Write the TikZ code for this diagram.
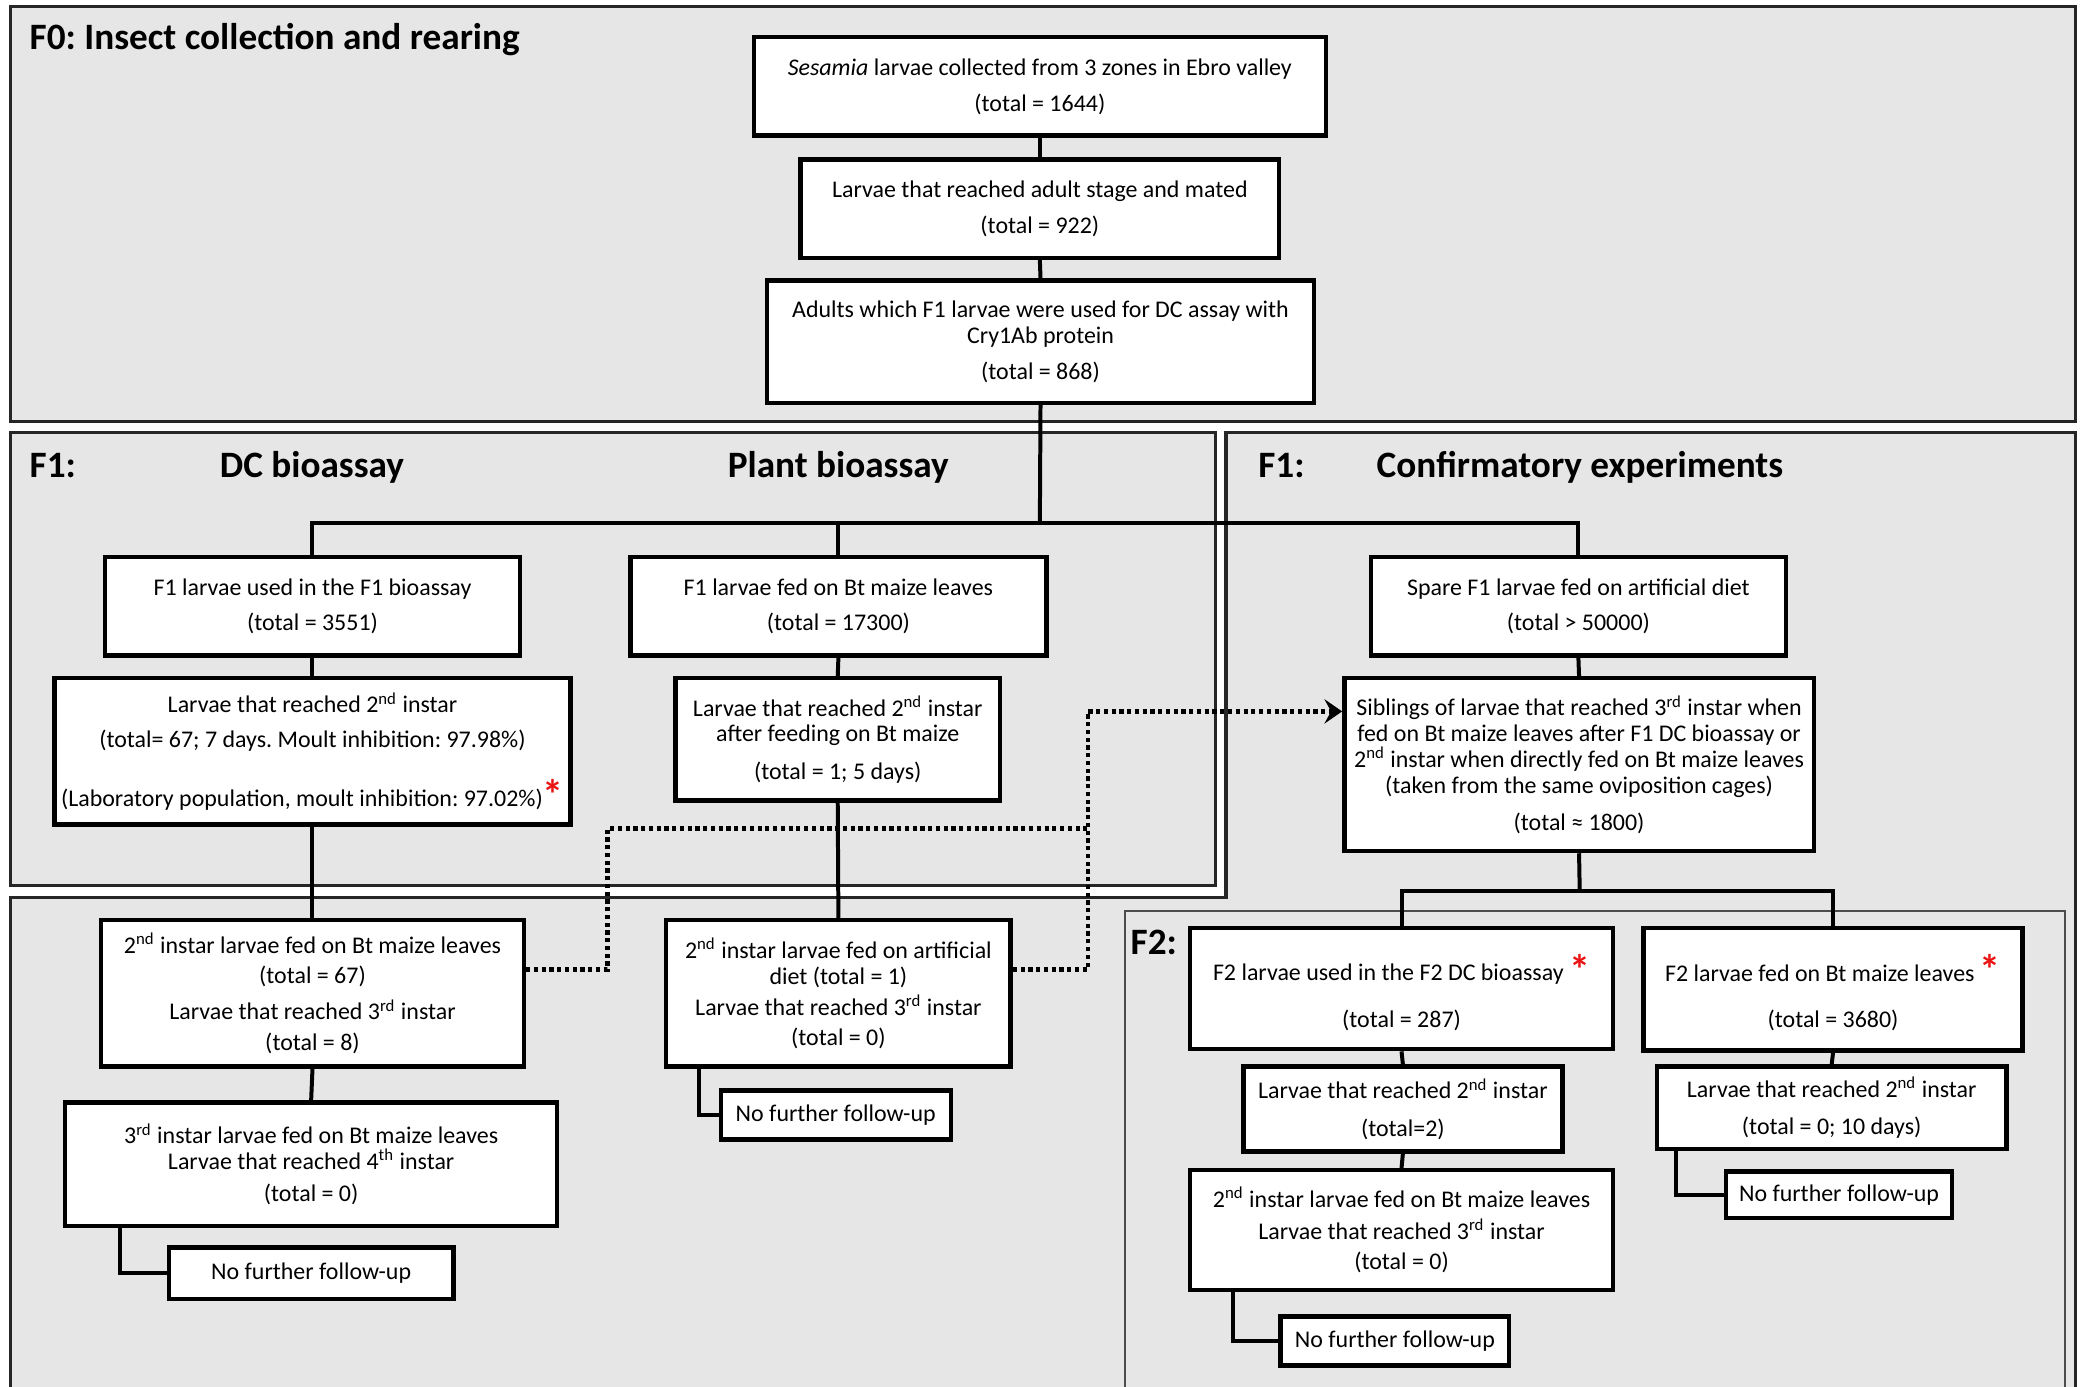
\documentclass[tikz,border=0pt]{standalone}
\usepackage{fontspec}
\setmainfont{Carlito}
\frenchspacing
\usetikzlibrary{fit,arrows.meta,calc}
\definecolor{panelgray}{RGB}{230,230,230}
\definecolor{astred}{RGB}{235,20,20}
\newcommand{\redast}{\smash{\textcolor{astred}{\raisebox{-0.3ex}{\fontsize{19}{19}\selectfont\bfseries *}}}}
\newcommand{\bx}[7][0pt]{%
  \node[box, fit={(#3,#4) (#5,#6)}] (#2) {};
  \node[txt] (#2t) at ([yshift=#1]#2.center) {#7};}
\tikzset{
  panel/.style={draw=black!85, line width=1.4pt, fill=panelgray},
  subpanel/.style={draw=black!70, line width=0.6pt, fill=panelgray},
  box/.style={draw=black, line width=2pt, fill=white, inner sep=0pt},
  txt/.style={inner sep=0pt, align=center, font=\fontsize{10.8}{11.6}\selectfont\frenchspacing},
  conn/.style={draw=black, line width=1.8pt},
  dotline/.style={draw=black, line width=2pt, dash pattern=on 1.9pt off 1.6pt},
  head/.style={inner sep=0pt, font=\fontsize{16.8}{20}\selectfont\bfseries\frenchspacing},
}
\begin{document}
\begin{tikzpicture}[x=0.6pt,y=-0.6pt]
\clip (0,0) rectangle (1568,1043);
\fill[white] (0,0) rectangle (1568,1043);
% panels
\draw[panel] (8,5) rectangle (1561,317);
\draw[panel] (8,325) rectangle (914,666);
\draw[panel] (8,1070) -- (8,675) -- (922,675) -- (922,325) -- (1561,325) -- (1561,1070) -- cycle;
\draw[subpanel] (846,685) rectangle (1553,1070);
% headings
\node[head, anchor=base west] (h0) at (22,37) {F0: Insect collection and rearing};
\node[head, anchor=base west] (h1) at (22,359) {F1:};
\node[head, anchor=base west] (h1a) at (165,359) {DC bioassay};
\node[head, anchor=base west] (h1b) at (547,359) {Plant bioassay};
\node[head, anchor=base west] (h1c) at (946,359) {F1:};
\node[head, anchor=base west] (h1d) at (1035,359) {Confirmatory experiments};
\node[head, anchor=base west] (h2) at (850,718) {F2:};
% boxes
\bx{A}{567}{28}{997}{102}{\textit{Sesamia} larvae collected from 3 zones in Ebro valley\\[4.6pt] (total = 1644)}
\bx{B}{602}{120}{962}{194}{Larvae that reached adult stage and mated\\[4.6pt] (total = 922)}
\bx{C}{577}{211}{988}{303}{Adults which F1 larvae were used for DC assay with\\ Cry1Ab protein\\[4.6pt] (total = 868)}
\bx{D}{79}{419}{391}{493}{F1 larvae used in the F1 bioassay\\[4.6pt] (total = 3551)}
\bx{E}{474}{419}{787}{493}{F1 larvae fed on Bt maize leaves\\[4.6pt] (total = 17300)}
\bx{F}{1031}{419}{1343}{493}{Spare F1 larvae fed on artificial diet\\[4.6pt] (total > 50000)}
\bx{G}{41}{510}{429}{620}{Larvae that reached 2\textsuperscript{nd} instar\\[4pt] (total= 67; 7 days. Moult inhibition: 97.98\%)\\[15pt] (Laboratory population, moult inhibition: 97.02\%)\redast}
\bx{H}{508}{510}{752}{602}{Larvae that reached 2\textsuperscript{nd} instar\\ after feeding on Bt maize\\[5.2pt] (total = 1; 5 days)}
\bx{I}{1011}{510}{1364}{640}{Siblings of larvae that reached 3\textsuperscript{rd} instar when\\ fed on Bt maize leaves after F1 DC bioassay or\\ 2\textsuperscript{nd} instar when directly fed on Bt maize leaves\\ (taken from the same oviposition cages)\\[5.2pt] (total ≈ 1800)}
\bx{Q}{76}{692}{394}{802}{2\textsuperscript{nd} instar larvae fed on Bt maize leaves\\[2.2pt] (total = 67)\\[4.6pt] Larvae that reached 3\textsuperscript{rd} instar\\[2.2pt] (total = 8)}
\bx{T}{501}{692}{760}{802}{2\textsuperscript{nd} instar larvae fed on artificial\\[0.4pt] diet (total = 1)\\[2.2pt] Larvae that reached 3\textsuperscript{rd} instar\\[2.2pt] (total = 0)}
\bx{R}{49}{829}{419}{922}{3\textsuperscript{rd} instar larvae fed on Bt maize leaves\\ Larvae that reached 4\textsuperscript{th} instar\\[2.8pt] (total = 0)}
\bx{S}{127}{938}{341}{977}{No further follow-up}
\bx{U}{542}{820}{715}{857}{No further follow-up}
\bx[-3.9pt]{J}{895}{698}{1213}{789}{F2 larvae used in the F2 DC bioassay \redast\\[9.4pt] (total = 287)}
\bx[-3.9pt]{K}{1236}{698}{1521}{790}{F2 larvae fed on Bt maize leaves \redast\\[9.4pt] (total = 3680)}
\bx{L}{935}{802}{1175}{866}{Larvae that reached 2\textsuperscript{nd} instar\\[5.2pt] (total=2)}
\bx{M}{895}{880}{1213}{970}{2\textsuperscript{nd} instar larvae fed on Bt maize leaves\\[2.8pt] Larvae that reached 3\textsuperscript{rd} instar\\[2.2pt] (total = 0)}
\bx{N}{963}{990}{1135}{1027}{No further follow-up}
\bx{O}{1246}{802}{1509}{864}{Larvae that reached 2\textsuperscript{nd} instar\\[5.2pt] (total = 0; 10 days)}
\bx{P}{1298}{881}{1468}{916}{No further follow-up}
% bus coordinates
\coordinate (bus) at (782,393);
\coordinate (bus2) at (1188,670);
\coordinate (dk) at (457,623);
\coordinate (dj) at (818,623);
\coordinate (arr) at ($(I.west)+(0,-40)$);
% connectors
\draw[conn] (A.south) -- (B.north);
\draw[conn] (B.south) -- (C.north);
\draw[conn] (C.south) -- (bus);
\draw[conn] (D.north) |- (bus) -| (F.north);
\draw[conn] (E.north) -- (E.north |- bus);
\draw[conn] (D.south) -- (G.north);
\draw[conn] (E.south) -- (H.north);
\draw[conn] (F.south) -- (I.north);
\draw[conn] (G.south) -- (Q.north);
\draw[conn] (H.south) -- (T.north);
\draw[conn] (Q.south) -- (R.north);
\draw[conn] (R.south west) ++(43,0) |- (S.west);
\draw[conn] (T.south west) ++(26,0) |- (U.west);
\draw[conn] (I.south) -- (bus2);
\draw[conn] (J.north) |- (bus2) -| (K.north);
\draw[conn] (J.south) -- (L.north);
\draw[conn] (L.south) -- (M.north);
\draw[conn] (M.south west) ++(34,0) |- (N.west);
\draw[conn] (K.south) -- (O.north);
\draw[conn] (O.south west) ++(16,0) |- (P.west);
% dotted
\draw[dotline] ($(Q.east)+(0,-18)$) -| (dk) -- (dj);
\draw[dotline, -{Stealth[length=8pt,width=11pt,inset=3pt]}] ($(T.east)+(0,-18)$) -| (arr -| dj) -- (arr);
\end{tikzpicture}
\end{document}
